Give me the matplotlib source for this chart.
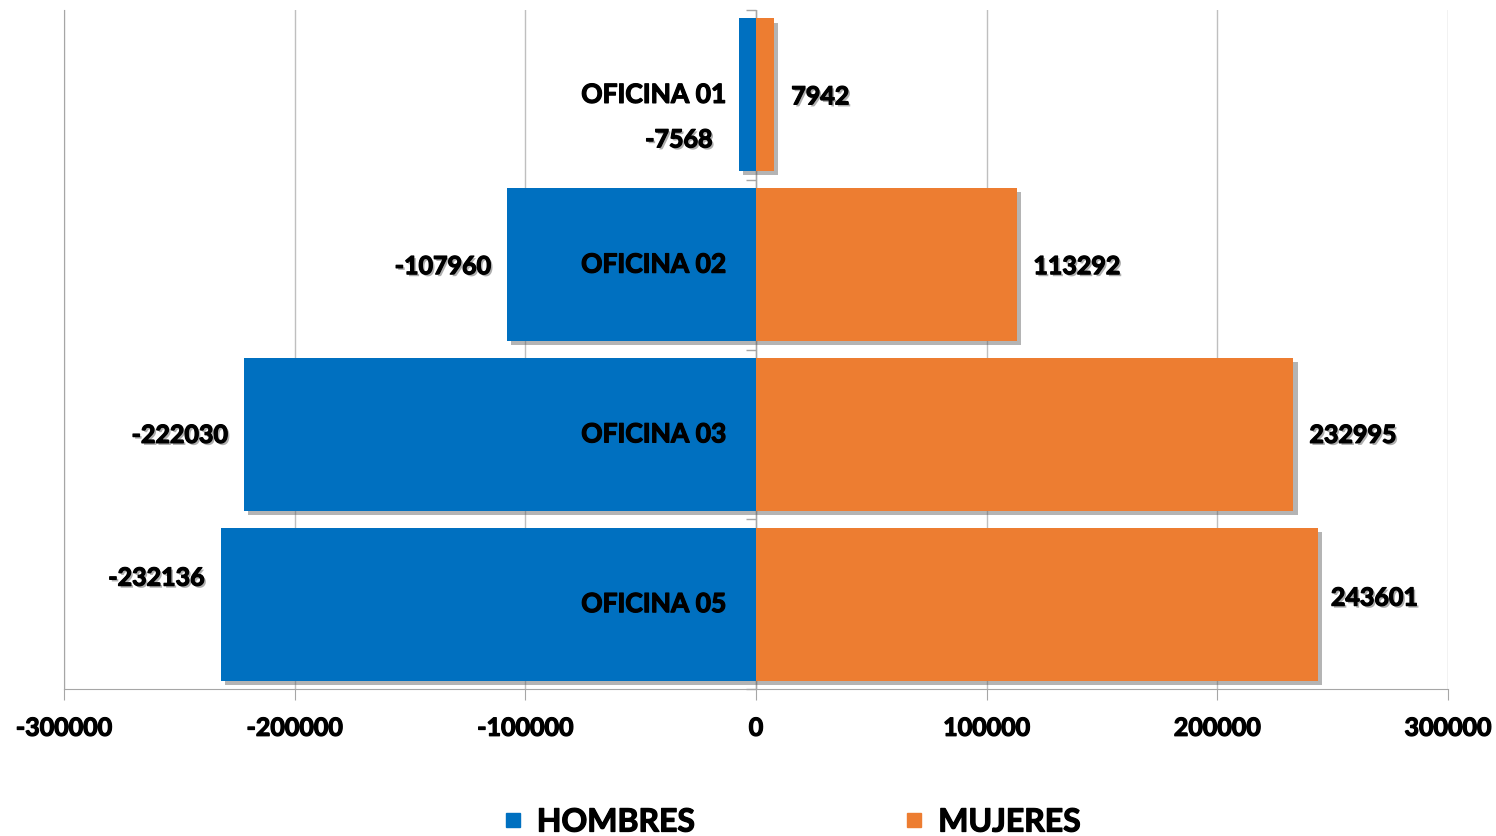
import matplotlib
matplotlib.use("Agg")
import matplotlib.pyplot as plt
import matplotlib.patheffects as pe
from matplotlib.markers import TICKLEFT
from matplotlib.lines import Line2D

# datos
oficinas = ["OFICINA 01", "OFICINA 02", "OFICINA 03", "OFICINA 05"]
hombres = [-7568, -107960, -222030, -232136]
mujeres = [7942, 113292, 232995, 243601]
ticks = [-300000, -200000, -100000, 0, 100000, 200000, 300000]

AZUL = "#0070C0"
NARANJA = "#ED7D31"
GRIS = "#A6A6A6"

plt.rcParams["font.family"] = ["Lato", "DejaVu Sans"]
plt.rcParams["font.weight"] = "bold"

fig = plt.figure(figsize=(14.96, 8.36), dpi=100)
ax = fig.add_axes([64 / 1496, 1 - 689 / 836, 1384 / 1496, 679 / 836])

sombra = [pe.SimplePatchShadow(offset=(3, -3), shadow_rgbFace="0.35", alpha=0.45), pe.Normal()]
# el texto de Excel es mas grueso: un trazo fino lo engorda
grueso = [pe.Stroke(linewidth=0.9, foreground="black"), pe.Normal()]
sombra_txt = [pe.SimplePatchShadow(offset=(1.5, -1.5), shadow_rgbFace="0.3", alpha=0.45)] + grueso

y = list(range(len(oficinas)))
bh = ax.barh(y, hombres, height=0.9, color=AZUL, zorder=3)
bm = ax.barh(y, mujeres, height=0.9, color=NARANJA, zorder=3)
for b in list(bh) + list(bm):
    b.set_path_effects(sombra)

ax.set_xlim(-300000, 300000)
ax.set_ylim(len(oficinas) - 0.5, -0.5)
ax.set_xticks(ticks)
ax.set_xticklabels([str(t) for t in ticks], fontsize=18, fontweight="bold")
for t in ax.get_xticklabels():
    t.set_path_effects(grueso)
ax.set_yticks([])
ax.tick_params(axis="x", direction="out", length=8, color=GRIS, pad=12)
ax.grid(axis="x", color="#BFBFBF", lw=1, zorder=0)
for s in ["top", "right"]:
    ax.spines[s].set_visible(False)
for s in ["left", "bottom"]:
    ax.spines[s].set_color(GRIS)

# eje de categorias en cero
ax.axvline(0, color=GRIS, lw=1, zorder=2)
limites = [i - 0.5 for i in range(len(oficinas) + 1)]
ax.plot([0] * len(limites), limites, ls="none", marker=TICKLEFT, ms=7,
        mew=1, color=GRIS, zorder=2, clip_on=False)

# etiquetas de categoria
for i, nom in enumerate(oficinas):
    ax.annotate(nom, (0, i), xytext=(-30, 0), textcoords="offset pixels",
                ha="right", va="center", fontsize=19, fontweight="bold", zorder=5,
                path_effects=grueso)

# desplazamientos de las etiquetas de valor (pixeles)
off_h = [(-26, -45), (-16, -2), (-16, -1), (-16, 26)]
off_m = [(17, -2), (16, -2), (16, -1), (13, 6)]
for i in y:
    ax.annotate(str(hombres[i]), (hombres[i], i), xytext=off_h[i], textcoords="offset pixels",
                ha="right", va="center", fontsize=18, fontweight="bold", zorder=5,
                path_effects=sombra_txt)
    ax.annotate(str(mujeres[i]), (mujeres[i], i), xytext=off_m[i], textcoords="offset pixels",
                ha="left", va="center", fontsize=18, fontweight="bold", zorder=5,
                path_effects=sombra_txt)

handles = [Line2D([], [], ls="none", marker="s", ms=10, color=AZUL),
           Line2D([], [], ls="none", marker="s", ms=10, color=NARANJA)]
leg = fig.legend(handles, ["HOMBRES", "MUJERES"], loc="lower center", ncol=2,
                 bbox_to_anchor=(0.53, -0.035), frameon=False, prop={"size": 23, "weight": "bold"},
                 handlelength=0.5, handletextpad=0.5, columnspacing=6.6)
for t in leg.get_texts():
    t.set_path_effects(grueso)

fig.savefig("out.png", dpi=100)
